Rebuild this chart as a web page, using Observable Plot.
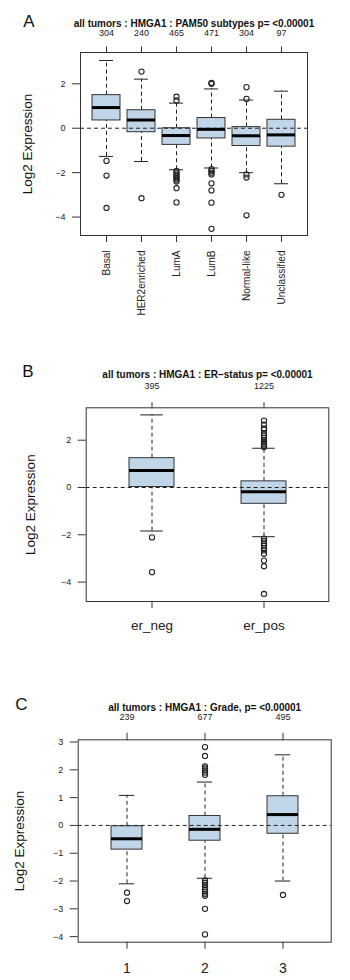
<!DOCTYPE html>
<html><head><meta charset="utf-8">
<script src="https://cdn.jsdelivr.net/npm/d3@7"></script>
<script src="https://cdn.jsdelivr.net/npm/@observablehq/plot@0.6"></script>
<style>
body{margin:0;background:#fff;width:350px;height:980px;position:relative;overflow:hidden;font-family:"Liberation Sans",Arial,sans-serif}
.panel{position:absolute;left:0;width:350px}
</style></head><body>
<div id="pa" class="panel" style="top:0px"></div>
<div id="pb" class="panel" style="top:340px"></div>
<div id="pc" class="panel" style="top:680px"></div>
<script>
// ---------- Panel A: PAM50 subtypes ----------
const aTitle = "all tumors : HMGA1 : PAM50 subtypes p= <0.00001";
const aCategories = ["Basal", "HER2enriched", "LumA", "LumB", "Normal-like", "Unclassified"];
const aCounts = [304, 240, 465, 471, 304, 97];
const aLow    = [-1.27, -1.50, -1.87, -1.79, -2.00, -2.50];
const aQ1     = [0.35, -0.18, -0.75, -0.46, -0.80, -0.83];
const aMedian = [0.93, 0.37, -0.33, -0.05, -0.34, -0.30];
const aQ3     = [1.49, 0.81, 0.00, 0.46, 0.05, 0.38];
const aHigh   = [3.05, 2.21, 1.13, 1.77, 1.27, 1.67];
const aOutliers = [
  [-1.47, -2.13, -3.59],
  [2.55, -3.15],
  [1.42, 1.25, -1.92, -2.0, -2.08, -2.16, -2.24, -2.32, -2.40, -2.70, -3.34],
  [2.04, 2.0, -1.84, -1.92, -2.0, -2.08, -2.48, -2.80, -3.35, -4.53],
  [1.85, 1.32, -2.08, -2.22, -3.92],
  [-3.0]
];
const aTicks = [-4, -2, 0, 2];

// ---------- Panel B: ER status ----------
const bTitle = "all tumors : HMGA1 : ER\u2212status p= <0.00001";
const bCategories = ["er_neg", "er_pos"];
const bCounts = [395, 1225];
const bLow    = [-1.84, -2.08];
const bQ1     = [0.02, -0.69];
const bMedian = [0.72, -0.18];
const bQ3     = [1.24, 0.26];
const bHigh   = [3.07, 1.66];
const bOutliers = [
  [-2.11, -3.58],
  [2.83, 2.66, 2.50, 2.45, 2.30, 2.20, 2.10, 2.0, 1.92, 1.84, 1.77, 1.71,
   -2.16, -2.26, -2.36, -2.46, -2.56, -2.66, -2.80, -3.09, -3.33, -4.50]
];
const bTicks = [-4, -2, 0, 2];

// ---------- Panel C: Grade ----------
const cTitle = "all tumors : HMGA1 : Grade, p= <0.00001";
const cCategories = ["1", "2", "3"];
const cCounts = [239, 677, 495];
const cLow    = [-2.10, -1.90, -2.00];
const cQ1     = [-0.87, -0.55, -0.30];
const cMedian = [-0.48, -0.14, 0.39];
const cQ3     = [-0.03, 0.34, 1.05];
const cHigh   = [1.08, 1.56, 2.54];
const cOutliers = [
  [-2.42, -2.72],
  [2.82, 2.50, 2.12, 2.05, 1.98, 1.90, 1.82, -1.98, -2.06, -2.14, -2.22, -2.30, -2.38, -2.46, -2.53, -3.0, -3.92],
  [-2.50]
];
const cTicks = [-4, -3, -2, -1, 0, 1, 2, 3];

const boxFill = "#c0d5e8";
const ink = "#222";

function boxPanel(cfg) {
  const n = cfg.categories.length;
  const stats = cfg.categories.map((c, i) => ({
    cat: c, lo: cfg.low[i], q1: cfg.q1[i], med: cfg.median[i], q3: cfg.q3[i], hi: cfg.high[i]
  }));
  const outs = [];
  cfg.categories.forEach((c, i) => cfg.outliers[i].forEach(v => outs.push({cat: c, v})));
  const countOf = new Map(cfg.categories.map((c, i) => [c, String(cfg.counts[i])]));
  const pi = cfg.paddingInner;
  const po = 0.5 + 0.04 * n - (1 - pi) / 2;
  const plotW = cfg.width - cfg.marginLeft - cfg.marginRight;
  const step = plotW / (n - pi + 2 * po);
  const bw = step * (1 - pi);
  const dash = "4,3";
  return Plot.plot({
    width: cfg.width, height: cfg.height,
    marginTop: cfg.marginTop, marginBottom: cfg.marginBottom,
    marginLeft: cfg.marginLeft, marginRight: cfg.marginRight,
    style: {fontFamily: '"Liberation Sans", Arial, sans-serif', color: ink, background: "white", overflow: "visible"},
    x: {type: "band", domain: cfg.categories, paddingInner: pi, paddingOuter: po, axis: null},
    y: {domain: cfg.yDomain, axis: null},
    marks: [
      Plot.ruleX(stats, {x: "cat", y1: "q3", y2: "hi", stroke: ink, strokeDasharray: dash, strokeWidth: 1}),
      Plot.ruleX(stats, {x: "cat", y1: "lo", y2: "q1", stroke: ink, strokeDasharray: dash, strokeWidth: 1}),
      Plot.tickY(stats, {x: "cat", y: "hi", stroke: ink, strokeWidth: 1, insetLeft: bw / 4, insetRight: bw / 4}),
      Plot.tickY(stats, {x: "cat", y: "lo", stroke: ink, strokeWidth: 1, insetLeft: bw / 4, insetRight: bw / 4}),
      Plot.barY(stats, {x: "cat", y1: "q1", y2: "q3", fill: boxFill, stroke: "#333", strokeWidth: 1}),
      Plot.ruleY([0], {stroke: ink, strokeDasharray: dash, strokeWidth: 1}),
      Plot.tickY(stats, {x: "cat", y: "med", stroke: "#000", strokeWidth: 3}),
      Plot.dot(outs, {x: "cat", y: "v", r: 2.6, stroke: ink, fill: "none", strokeWidth: 1.1}),
      Plot.frame({stroke: "#333", strokeWidth: 1}),
      Plot.axisY({ticks: cfg.yTicks, tickSize: 8, tickPadding: 7, fontSize: 9, label: null, stroke: "#333", tickFormat: d => d < 0 ? "\u2212" + Math.abs(d) : String(d)}),
      Plot.axisX({anchor: "top", tickSize: cfg.topTick, tickPadding: cfg.topPad, fontSize: 9, label: null, stroke: "#333", tickFormat: d => countOf.get(d)}),
      Plot.axisX({anchor: "bottom", tickSize: 7, tickPadding: cfg.bottomPad, fontSize: cfg.bottomFont, label: null, stroke: "#333", tickRotate: cfg.rotate}),
      Plot.text([cfg.title], {frameAnchor: "top", dy: -cfg.titleGap, lineAnchor: "bottom", fontWeight: "bold", fontSize: 10, fill: "#111"}),
      Plot.text([cfg.letter], {frameAnchor: "top-left", dx: cfg.letterDx, dy: cfg.letterDy, lineAnchor: "middle", textAnchor: "middle", fontSize: 17, fill: "#111"}),
      Plot.text(["Log2 Expression"], {frameAnchor: "left", dx: cfg.labelDx, rotate: -90, textAnchor: "middle", lineAnchor: "middle", fontSize: 13.5, fill: "#111"})
    ]
  });
}

document.getElementById("pa").append(boxPanel({
  title: aTitle, letter: "A", categories: aCategories, counts: aCounts,
  low: aLow, q1: aQ1, median: aMedian, q3: aQ3, high: aHigh, outliers: aOutliers,
  yTicks: aTicks, yDomain: [-4.83, 3.41],
  width: 350, height: 300, marginTop: 52, marginBottom: 65, marginLeft: 80, marginRight: 43,
  paddingInner: 0.2, topTick: 6.5, topPad: 10.5, bottomPad: 8, bottomFont: 10, rotate: -90,
  titleGap: 26, letterDx: -51.5, letterDy: -31, labelDx: -52.5
}));

document.getElementById("pb").append(boxPanel({
  title: bTitle, letter: "B", categories: bCategories, counts: bCounts,
  low: bLow, q1: bQ1, median: bMedian, q3: bQ3, high: bHigh, outliers: bOutliers,
  yTicks: bTicks, yDomain: [-4.82, 3.37],
  width: 350, height: 310, marginTop: 67.3, marginBottom: 49, marginLeft: 85.7, marginRight: 21.7,
  paddingInner: 0.6, topTick: 6, topPad: 13, bottomPad: 12, bottomFont: 13.5, rotate: 0,
  titleGap: 30, letterDx: -58.2, letterDy: -35.8, labelDx: -55.7
}));

document.getElementById("pc").append(boxPanel({
  title: cTitle, letter: "C", categories: cCategories, counts: cCounts,
  low: cLow, q1: cQ1, median: cMedian, q3: cQ3, high: cHigh, outliers: cOutliers,
  yTicks: cTicks, yDomain: [-4.2, 3.08],
  width: 350, height: 300, marginTop: 59.3, marginBottom: 38.3, marginLeft: 77.7, marginRight: 19.3,
  paddingInner: 0.6, topTick: 7.5, topPad: 12, bottomPad: 14, bottomFont: 14, rotate: 0,
  titleGap: 29.3, letterDx: -56.7, letterDy: -34.8, labelDx: -58.7
}));
</script>
</body></html>
